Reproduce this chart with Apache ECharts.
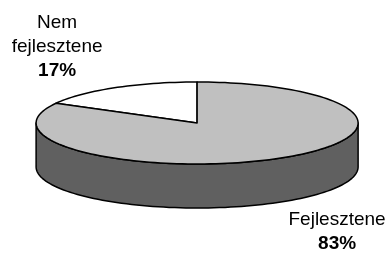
<!DOCTYPE html>
<html>
<head>
<meta charset="utf-8">
<script src="https://cdn.jsdelivr.net/npm/echarts@6/dist/echarts.min.js"></script>
<style>
  html, body { margin: 0; padding: 0; background: #fff; }
  #chart { width: 388px; height: 253px; }
</style>
</head>
<body>
<div id="chart"></div>
<script>
const categories = ['Nem fejlesztene', 'Fejlesztene']
const values = [17, 83]
const colors = ['#ffffff', '#c0c0c0']
const sideColor = '#606060'

const chart = echarts.init(document.getElementById('chart'))

const total = values.reduce((a, b) => a + b, 0)
// start at 12 o'clock, go counterclockwise
const startAngles = []
let acc = 90
values.forEach(v => { startAngles.push(acc); acc += v / total * 360 })

const rad = d => d * Math.PI / 180

function renderItem(params, api) {
  const i = params.dataIndex
  const w = api.getWidth()
  const cx = w * 0.508, cy = 123, rx = 161, ry = 41, depth = 44
  const a0 = startAngles[i]
  const a1 = a0 + api.value(1) / total * 360
  const pt = (a, dy) => [cx + rx * Math.cos(rad(a)), cy - ry * Math.sin(rad(a)) + (dy || 0)]
  const arc = (s, e, dy) => {
    const pts = []
    const n = Math.max(2, Math.ceil(Math.abs(e - s) / 2))
    for (let k = 0; k <= n; k++) pts.push(pt(s + (e - s) * k / n, dy))
    return pts
  }
  const children = []
  // visible side wall: front half (180..360 deg)
  ;[[180, 360], [540, 720]].forEach(([lo, hi]) => {
    const s = Math.max(a0, lo), e = Math.min(a1, hi)
    if (e > s) {
      children.push({
        type: 'polygon',
        z2: 1,
        shape: { points: arc(s, e, 0).concat(arc(e, s, depth)) },
        style: { fill: sideColor, stroke: '#000', lineWidth: 1.5, lineJoin: 'round' }
      })
    }
  })
  // top face
  children.push({
    type: 'polygon',
    z2: 10,
    shape: { points: [[cx, cy]].concat(arc(a0, a1, 0)) },
    style: { fill: colors[i], stroke: '#000', lineWidth: 1.5, lineJoin: 'round' }
  })
  // label
  const mid = rad((a0 + a1) / 2)
  const s = Math.sin(mid)
  const lx = cx + Math.cos(mid) * 275
  const ly = cy - s * 88 + (s < 0 ? depth * 0.75 : 0)
  children.push({
    type: 'text',
    z2: 20,
    style: {
      x: lx, y: ly,
      text: '{n|' + categories[i].split(' ').join('\n') + '}\n{p|' + api.value(1) + '%}',
      align: 'center',
      verticalAlign: 'middle',
      rich: {
        n: { fontFamily: 'Liberation Sans, Arial', fontSize: 19, lineHeight: 24, fill: '#000' },
        p: { fontFamily: 'Liberation Sans, Arial', fontSize: 19, fontWeight: 'bold', lineHeight: 24, fill: '#000' }
      }
    }
  })
  return { type: 'group', children }
}

chart.setOption({
  animation: false,
  series: [{
    type: 'custom',
    coordinateSystem: 'none',
    renderItem,
    data: values.map((v, i) => [i, v])
  }]
})
</script>
</body>
</html>
